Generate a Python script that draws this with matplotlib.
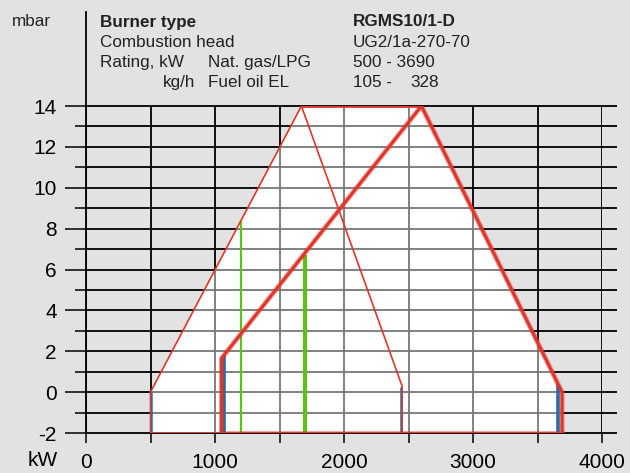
import matplotlib.pyplot as plt
from matplotlib.patches import Polygon
from matplotlib.ticker import MultipleLocator

plt.rcParams['font.family'] = ['Liberation Sans', 'DejaVu Sans']
plt.rcParams['axes.unicode_minus'] = False

# working field (white area)
field_x = [500, 500, 1670, 2600, 3690, 3690]
field_y = [-2, 0, 14, 14, 0, -2]

# thin red curves (gas)
gas_left_x = [500, 500, 1670]
gas_left_y = [-2, 0, 14]
gas_right_x = [1670, 2450, 2450]
gas_right_y = [14, 0.3, -2]
top_x = [1670, 2600]
top_y = [14, 14]

# thick red curve (oil)
oil_x = [1050, 1050, 2600, 3690, 3690]
oil_y = [-2, 1.65, 14, 0, -2]

# blue and green verticals
blue_x = [505, 1070, 2440, 3660]
blue_top = [0, 1.8, 0.27, 0.4]
green_thin_x, green_thin_top = 1200, 8.38
green_thick_x, green_thick_top = 1700, 6.7

header_left = ["Combustion head", "Rating, kW", ""]
header_right = ["UG2/1a-270-70", "500 - 3690", "105 -"]

BG = "#e2e2e2"
RED = "#e0352a"
BLUE = "#1f6fb2"
GREEN = "#5cc21a"

fig = plt.figure(figsize=(6.3, 4.73), dpi=100, facecolor=BG)
ax = fig.add_axes([86 / 630, 40 / 473, 516 / 630, 327 / 473])
ax.set_xlim(0, 4000)
ax.set_ylim(-2, 14)
ax.set_facecolor("none")
for s in ax.spines.values():
    s.set_visible(False)

# white field under the grid
ax.add_patch(Polygon(list(zip(field_x, field_y)), closed=True,
                     facecolor="white", edgecolor="none", zorder=0.5))

# grid
ax.hlines(range(-2, 15), 0, 4116, color="black", lw=1.3, clip_on=False, zorder=1)
ax.vlines(range(0, 4001, 500), -2, 14, color="black", lw=1.3, zorder=1)
ax.plot([0, 0], [-2, 18.6], color="black", lw=1.3, clip_on=False, zorder=1)

# lighten the grid inside the field
ax.add_patch(Polygon(list(zip(field_x, field_y)), closed=True,
                     facecolor="white", edgecolor="none", alpha=0.47, zorder=1.5))

# ticks
ax.xaxis.set_major_locator(MultipleLocator(1000))
ax.xaxis.set_minor_locator(MultipleLocator(500))
ax.yaxis.set_major_locator(MultipleLocator(2))
ax.yaxis.set_minor_locator(MultipleLocator(1))
ax.tick_params(axis="x", which="both", length=7.2, width=1.1, direction="out",
               pad=7, labelsize=15, colors="black")
ax.tick_params(axis="y", which="major", length=15, width=1.1, direction="out",
               pad=6, labelsize=15)
ax.tick_params(axis="y", which="minor", length=8, width=1.1, direction="out")

# green lines
ax.vlines(green_thin_x, -2, green_thin_top, color=GREEN, lw=1.6, zorder=3)
ax.vlines(green_thick_x, -2, green_thick_top, color=GREEN, lw=3, zorder=3)

# blue lines
ax.vlines(blue_x, -2, blue_top, color=BLUE, lw=[1.8, 2.6, 1.8, 2.6], zorder=3)

# red curves
ax.plot(gas_left_x, gas_left_y, color=RED, lw=1.2, zorder=4)
ax.plot(gas_right_x, gas_right_y, color=RED, lw=1.2, zorder=4)
ax.plot(top_x, top_y, color=RED, lw=2, zorder=4, solid_capstyle="butt")
ax.plot([500, 1050], [-2, -2], color=RED, lw=1.8, zorder=4)
ax.plot([1050, 3690], [-2, -2], color=RED, lw=3.6, alpha=0.4, zorder=4)
ax.plot([1050, 3690], [-2, -2], color=RED, lw=2.2, zorder=4)
ax.plot(oil_x, oil_y, color=RED, lw=3.8, alpha=0.4, zorder=4)
ax.plot(oil_x, oil_y, color=RED, lw=2.2, zorder=4)

# axis units
fig.text(58 / 630, 1 - 460 / 473, "kW", fontsize=15, ha="right", va="center")
fig.text(12 / 630, 1 - 26.5 / 473, "mbar", fontsize=12.3, va="baseline", color="#222222")

# header block
fs = 12.3
tc = "#222222"
fig.text(100 / 630, 1 - 26.5 / 473, "Burner type", fontsize=fs, fontweight="bold",
         va="baseline", color=tc)
fig.text(353 / 630, 1 - 26.5 / 473, "RGMS10/1-D", fontsize=fs, fontweight="bold",
         va="baseline", color=tc)
rows = [47, 67, 87.3]
for txt, val, yy in zip(header_left, header_right, rows):
    fig.text(100 / 630, 1 - yy / 473, txt, fontsize=fs, va="baseline", color=tc)
    fig.text(353 / 630, 1 - yy / 473, val, fontsize=fs, va="baseline", color=tc)
fig.text(208 / 630, 1 - 67 / 473, "Nat. gas/LPG", fontsize=fs, va="baseline", color=tc)
fig.text(195 / 630, 1 - 87.3 / 473, "kg/h", fontsize=fs, va="baseline", ha="right", color=tc)
fig.text(208 / 630, 1 - 87.3 / 473, "Fuel oil EL", fontsize=fs, va="baseline", color=tc)
fig.text(410 / 630, 1 - 87.3 / 473, "328", fontsize=fs, va="baseline", color=tc)

fig.savefig("out.png", dpi=100, facecolor=BG)
